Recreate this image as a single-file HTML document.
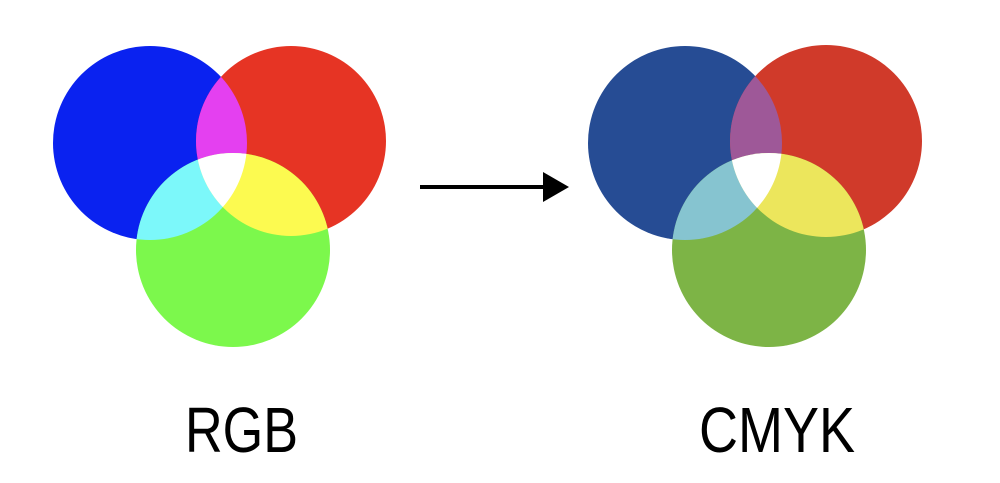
<!DOCTYPE html>
<html><head><style>html,body{margin:0;padding:0;background:#fff;width:1000px;height:483px;overflow:hidden}</style></head>
<body>
<svg width="1000" height="483" viewBox="0 0 1000 483" xmlns="http://www.w3.org/2000/svg">
<defs>
<clipPath id="lb"><circle cx="150" cy="143" r="97"/></clipPath>
<clipPath id="lr"><circle cx="291" cy="141" r="95"/></clipPath>
<clipPath id="lg"><circle cx="233" cy="250" r="97"/></clipPath>
<clipPath id="rb"><circle cx="685" cy="143" r="97"/></clipPath>
<clipPath id="rr"><circle cx="826" cy="141" r="96"/></clipPath>
<clipPath id="rg"><circle cx="769" cy="250" r="97"/></clipPath>
</defs>
<!-- RGB -->
<circle cx="150" cy="143" r="97" fill="#0a22f0"/>
<circle cx="291" cy="141" r="95" fill="#e63424"/>
<circle cx="233" cy="250" r="97" fill="#7cf84c"/>
<g clip-path="url(#lb)"><circle cx="291" cy="141" r="95" fill="#e440f0"/><circle cx="233" cy="250" r="97" fill="#7cf8fa"/></g>
<g clip-path="url(#lr)"><circle cx="233" cy="250" r="97" fill="#fcfa50"/></g>
<g clip-path="url(#lb)"><g clip-path="url(#lr)"><circle cx="233" cy="250" r="97" fill="#ffffff"/></g></g>
<!-- CMYK -->
<circle cx="685" cy="143" r="97" fill="#264c94"/>
<circle cx="826" cy="141" r="96" fill="#d03a2a"/>
<circle cx="769" cy="250" r="97" fill="#7db446"/>
<g clip-path="url(#rb)"><circle cx="826" cy="141" r="96" fill="#9e5898"/><circle cx="769" cy="250" r="97" fill="#86c4d0"/></g>
<g clip-path="url(#rr)"><circle cx="769" cy="250" r="97" fill="#ece65c"/></g>
<g clip-path="url(#rb)"><g clip-path="url(#rr)"><circle cx="769" cy="250" r="97" fill="#ffffff"/></g></g>
<!-- arrow -->
<line x1="420" y1="187" x2="548" y2="187" stroke="#000" stroke-width="4"/>
<polygon points="543,172 569,187 543,202" fill="#000"/>
<text x="185" y="452" font-family="Liberation Sans, sans-serif" font-size="64" textLength="113" lengthAdjust="spacingAndGlyphs" fill="#000">RGB</text>
<text x="699" y="452" font-family="Liberation Sans, sans-serif" font-size="64" textLength="156" lengthAdjust="spacingAndGlyphs" fill="#000">CMYK</text>
</svg>
</body></html>
